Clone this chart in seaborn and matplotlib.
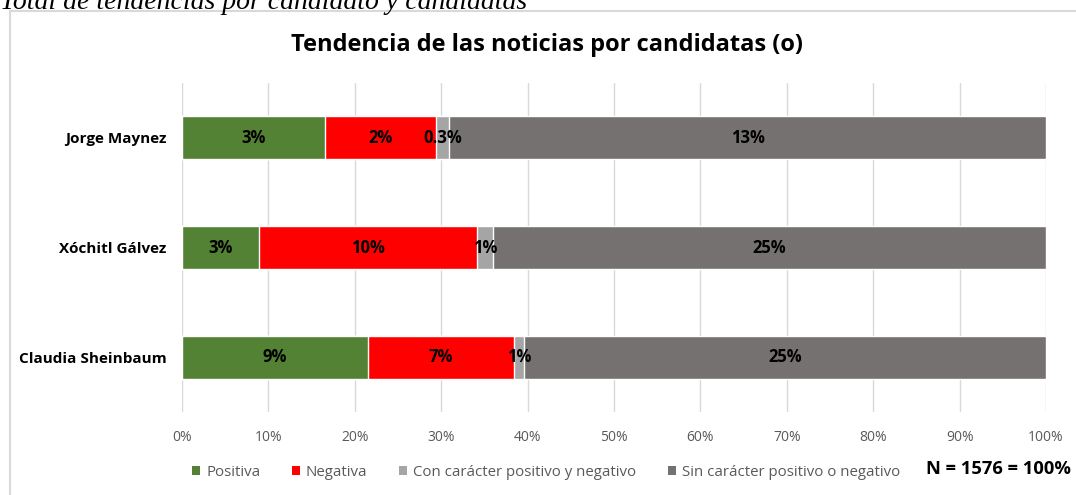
import matplotlib
matplotlib.use("Agg")
import matplotlib.pyplot as plt
import seaborn as sns
import pandas as pd
import numpy as np
from matplotlib.patches import Patch, Rectangle

# ---- data ----
candidatos = ["Jorge Maynez", "Xóchitl Gálvez", "Claudia Sheinbaum"]
series = ["Positiva", "Negativa", "Con carácter positivo y negativo",
          "Sin carácter positivo o negativo"]
# share of each bar (percent of row)
positiva = [16.6, 8.9, 21.5]
negativa = [12.8, 25.3, 16.9]
con_caracter = [1.5, 1.8, 1.2]
sin_caracter = [69.1, 64.0, 60.4]
# data labels shown on the bars (percent of N total)
lab_positiva = ["3%", "3%", "9%"]
lab_negativa = ["2%", "10%", "7%"]
lab_con = ["0.3%", "1%", "1%"]
lab_sin = ["13%", "25%", "25%"]
xticks = list(range(0, 101, 10))
xticklabels = [f"{t}%" for t in xticks]
colors = ["#548235", "#FF0000", "#A5A5A5", "#767171"]

sns.set_theme(style="white")
plt.rcParams["font.family"] = ["Open Sans", "DejaVu Sans"]

fig = plt.figure(figsize=(10.76, 4.95), dpi=100)
ax = fig.add_axes([182/1076, 1-412/495, (1046-182)/1076, (412-83)/495])

vals = [positiva, negativa, con_caracter, sin_caracter]
labs = [lab_positiva, lab_negativa, lab_con, lab_sin]
cum = np.cumsum(np.array(vals), axis=0)

# draw cumulative bars from largest to smallest
for i in range(3, -1, -1):
    df = pd.DataFrame({"cand": candidatos, "val": cum[i]})
    sns.barplot(data=df, x="val", y="cand", color=colors[i], width=0.39,
                orient="h", ax=ax, saturation=1, zorder=3)

# labels centered in each segment
for i in range(4):
    for j, c in enumerate(candidatos):
        center = cum[i][j] - vals[i][j] / 2
        ax.text(center, j, labs[i][j], ha="center", va="center",
                fontsize=12, fontweight="bold", color="black", zorder=5)

ax.set_xlim(0, 100)
ax.set_ylim(2.5, -0.5)
ax.set_xticks(xticks)
ax.set_xticklabels(xticklabels, color="#595959", fontsize=10)
ax.tick_params(axis="x", length=0, pad=13)
ax.tick_params(axis="y", length=0, pad=11)
for lab in ax.get_yticklabels():
    lab.set_fontweight("bold")
    lab.set_fontsize(11)
    lab.set_color("black")
ax.set_xlabel("")
ax.set_ylabel("")
ax.xaxis.grid(True, color="#D9D9D9", linewidth=1, zorder=0)
ax.yaxis.grid(False)
ax.set_axisbelow(True)
for s in ax.spines.values():
    s.set_visible(False)

# outer frame
fig.patches.append(Rectangle((10/1076, -0.1), 1.2, 1-11/495+0.1,
                             transform=fig.transFigure, fill=False,
                             edgecolor="#D9D9D9", linewidth=1.5))

# caption (cut at top, as in the reference)
fig.text(0, 1-9/495, "Total de tendencias por candidato y candidatas",
         family="Liberation Serif", style="italic", fontsize=20,
         va="baseline", ha="left", color="black")

# title
fig.text(547/1076, 1-45/495, "Tendencia de las noticias por candidatas (o)",
         fontsize=17, fontweight="bold", ha="center", va="center",
         color="black")

handles = [Patch(facecolor=c, edgecolor="none") for c in colors]
fig.legend(handles, series, loc="center", bbox_to_anchor=(546/1076, 1-472/495),
           ncol=4, frameon=False, fontsize=10.8, labelcolor="#595959",
           handlelength=0.55, handleheight=0.55, handletextpad=0.4,
           columnspacing=2.1, borderaxespad=0)

fig.text(926/1076, 1-469/495, "N = 1576 = 100%", fontsize=13.2,
         fontweight="bold", ha="left", va="center", color="black")

fig.savefig("out.png", dpi=100)
